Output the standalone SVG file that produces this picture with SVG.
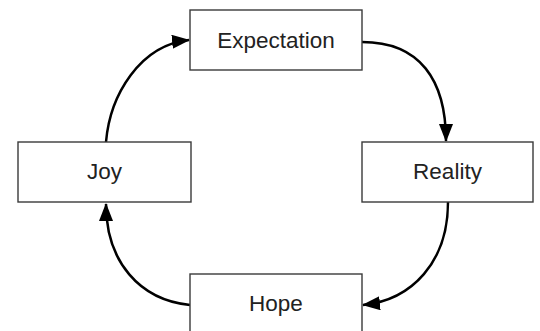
<svg xmlns="http://www.w3.org/2000/svg" width="540" height="331" viewBox="0 0 540 331">
<style>
.box{fill:#fff;stroke:#3a3a3a;stroke-width:1.4}
.lbl{font-family:"Liberation Sans",Arial,sans-serif;font-size:22.5px;fill:#222;text-anchor:middle}
.edge{fill:none;stroke:#000;stroke-width:2.5}
</style>
<defs>
<marker id="ah" viewBox="0 0 18 14" refX="17" refY="7" markerWidth="18" markerHeight="14" markerUnits="userSpaceOnUse" orient="auto">
<path d="M0,0 L18,7 L0,14 Z" fill="#000"/>
</marker>
</defs>
<rect width="540" height="331" fill="#fff"/>
<g id="connectors">
<path class="edge" d="M362,42 C420,42 446,80 446,141" marker-end="url(#ah)"/>
<path class="edge" d="M448,202 C448,262 412,300 363,305" marker-end="url(#ah)"/>
<path class="edge" d="M190,305 C140,300 106,262 106,204" marker-end="url(#ah)"/>
<path class="edge" d="M106,142 C110,95 140,45 189,40" marker-end="url(#ah)"/>
</g>
<g id="expectation"><rect class="box" x="190" y="10" width="172" height="60"/><text class="lbl" x="276" y="47.5">Expectation</text></g>
<g id="reality"><rect class="box" x="362" y="142" width="171" height="60"/><text class="lbl" x="447.5" y="179">Reality</text></g>
<g id="hope"><rect class="box" x="190" y="274" width="172" height="60"/><text class="lbl" x="276" y="311">Hope</text></g>
<g id="joy"><rect class="box" x="18" y="142" width="173" height="60"/><text class="lbl" x="104.5" y="179">Joy</text></g>
</svg>
